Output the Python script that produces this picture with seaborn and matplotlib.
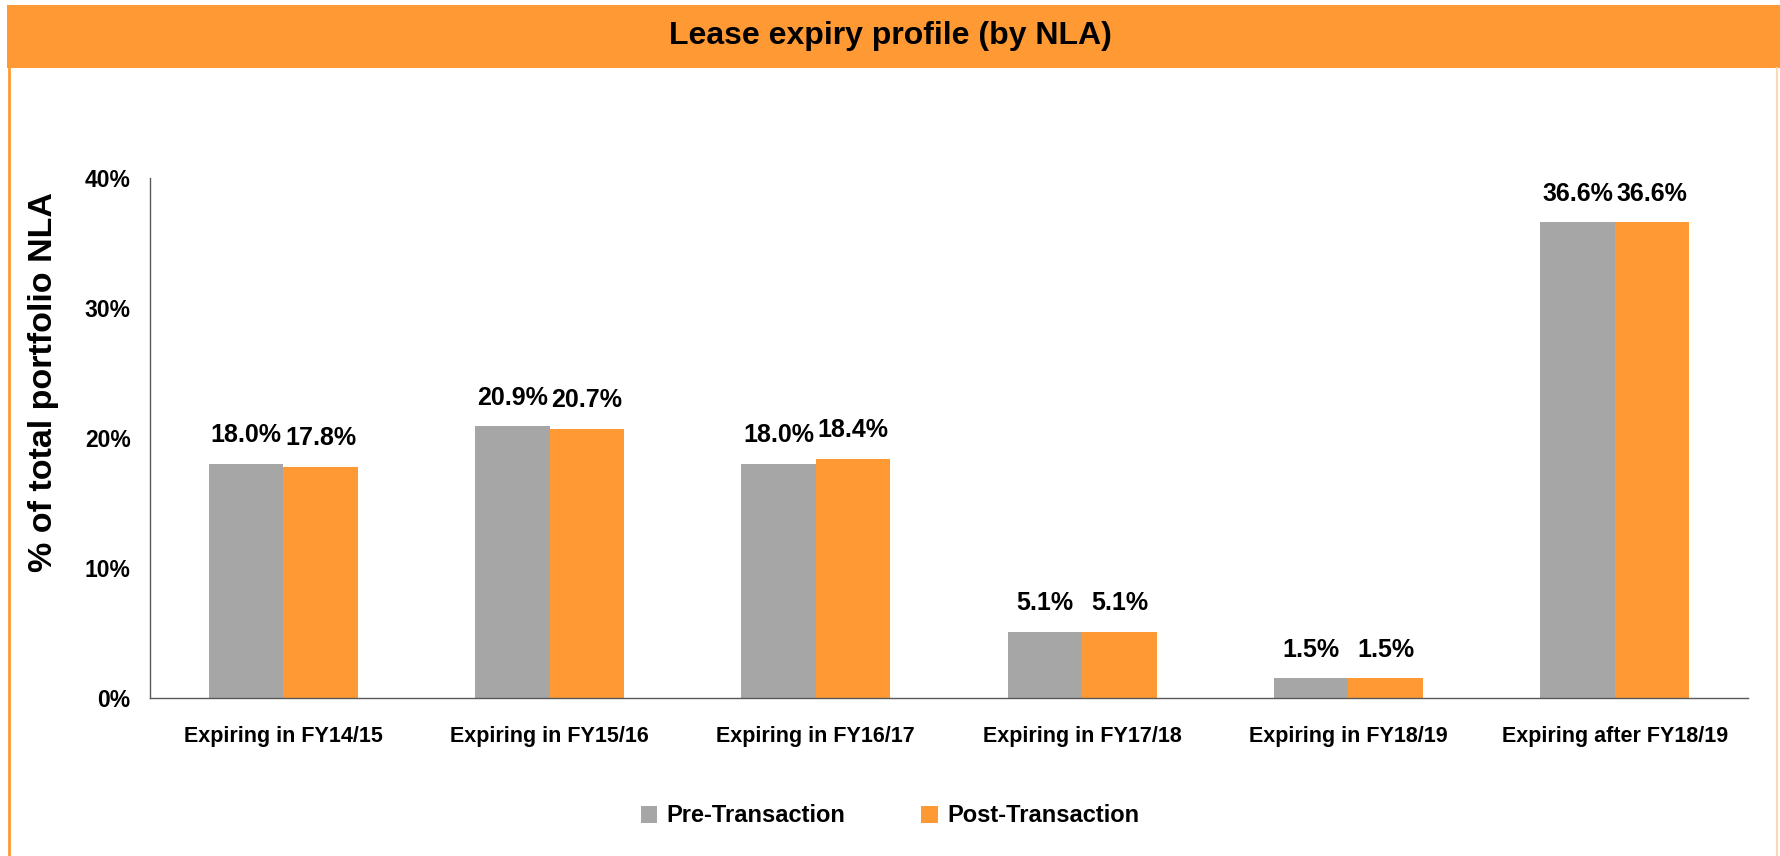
import matplotlib
matplotlib.use('Agg')
import matplotlib.pyplot as plt
import matplotlib.patches as mpatches
import matplotlib.lines as mlines
import pandas as pd
import seaborn as sns
from matplotlib.ticker import FixedLocator

# lease expiry profile (by NLA)
categories = ['Expiring in FY14/15', 'Expiring in FY15/16', 'Expiring in FY16/17',
              'Expiring in FY17/18', 'Expiring in FY18/19', 'Expiring after FY18/19']
pre_transaction = [18.0, 20.9, 18.0, 5.1, 1.5, 36.6]
post_transaction = [17.8, 20.7, 18.4, 5.1, 1.5, 36.6]
series_names = ['Pre-Transaction', 'Post-Transaction']
y_ticks = [0, 10, 20, 30, 40]

df = pd.DataFrame({
    'Category': categories * 2,
    'Series': [series_names[0]] * len(categories) + [series_names[1]] * len(categories),
    'Value': pre_transaction + post_transaction,
})

GREY = '#A6A6A6'
ORANGE = '#FF9933'

#styling
sns.set_style('white')
fonts = ['Liberation Sans', 'DejaVu Sans']
plt.rcParams['font.family'] = fonts
plt.rcParams['font.weight'] = 'bold'
plt.rcParams['text.color'] = 'black'
plt.rcParams['axes.labelcolor'] = 'black'
plt.rcParams['xtick.color'] = 'black'
plt.rcParams['ytick.color'] = 'black'

fig = plt.figure(figsize=(17.8, 8.56), dpi=100)
ax = fig.add_axes([0.0843, 0.1846, 0.8977, 0.6074])

ax = sns.barplot(data=df, x='Category', y='Value', hue='Series',
                 palette=[GREY, ORANGE], width=0.56, gap=0,
                 saturation=1, linewidth=0, edgecolor='none', ax=ax, legend=False)

for cont in ax.containers:
    ax.bar_label(cont, labels=['%.1f%%' % v for v in cont.datavalues],
                 padding=12, fontsize=18, fontweight='bold', color='black')

ax.set_ylim(0, 40)
ax.set_xlim(-0.5, len(categories) - 0.5)
ax.set_yticks(y_ticks)
ax.set_yticklabels(['%d%%' % t for t in y_ticks], fontsize=16.5, fontweight='bold')
ax.set_xticks(range(len(categories)))
ax.set_xticklabels(categories, fontsize=15.5, fontweight='bold')
ax.xaxis.set_minor_locator(FixedLocator([i - 0.5 for i in range(len(categories) + 1)]))
ax.tick_params(axis='x', which='major', length=0, pad=20)
ax.tick_params(axis='x', which='minor', length=8, width=1, color='#595959', direction='out')
ax.tick_params(axis='y', length=8, width=1, color='#595959', direction='out', pad=6)
ax.set_xlabel('')
ax.set_ylabel('% of total portfolio NLA', fontsize=24.5, fontweight='bold')
ax.yaxis.set_label_coords(-0.057, 0.607)

sns.despine(ax=ax, top=True, right=True)
for s in ['left', 'bottom']:
    ax.spines[s].set_color('#595959')
    ax.spines[s].set_linewidth(1)

# title banner
fig.patches.append(mpatches.Rectangle((0.004, 1 - 68 / 856), 0.996, 63 / 856,
                                      transform=fig.transFigure, facecolor=ORANGE,
                                      edgecolor='none', zorder=0))
fig.text(0.5, 1 - 36 / 856, 'Lease expiry profile (by NLA)', ha='center', va='center',
         fontsize=23, fontweight='bold', color='black')
fig.add_artist(mlines.Line2D([9 / 1780, 9 / 1780], [0, 1 - 68 / 856],
                             transform=fig.transFigure, color=ORANGE, lw=2))
fig.add_artist(mlines.Line2D([1777 / 1780, 1777 / 1780], [0, 1 - 68 / 856],
                             transform=fig.transFigure, color='#FBD9B5', lw=1.5))

handles = [mpatches.Patch(facecolor=c, edgecolor='none') for c in [GREY, ORANGE]]
fig.legend(handles, series_names, loc='center', bbox_to_anchor=(0.5, 1 - 816 / 856),
           ncol=2, frameon=False, fontsize=17, handlelength=0.7, handleheight=0.7,
           handletextpad=0.4, columnspacing=3.2)

fig.savefig('out.png', dpi=100)
